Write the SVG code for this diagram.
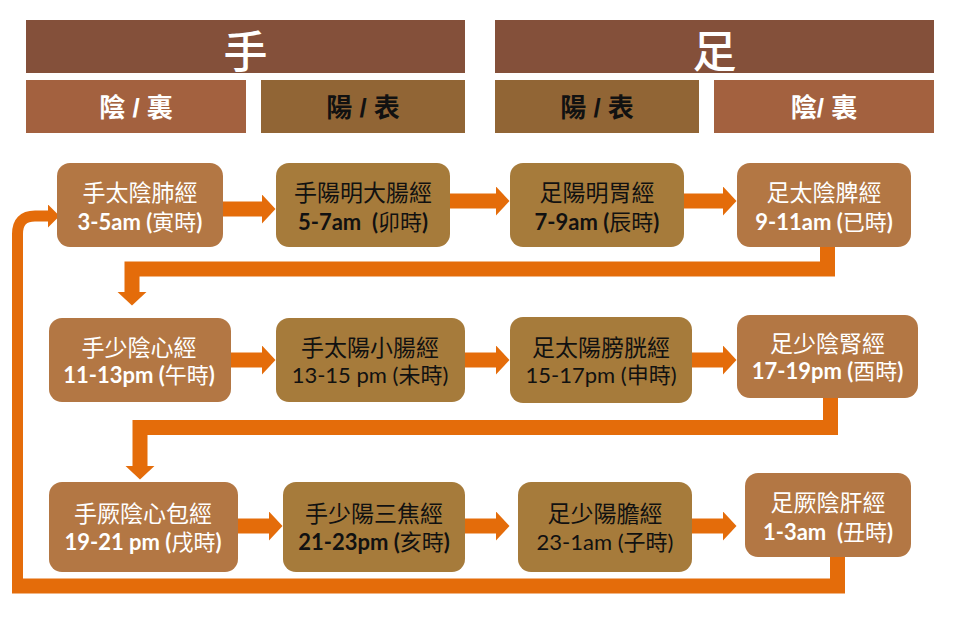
<svg xmlns="http://www.w3.org/2000/svg" width="960" height="617" viewBox="0 0 960 617">
<style>
.hd{fill:#84503A}
.yinh{fill:#A3613F}
.yangh{fill:#916535}
.yin{fill:#B37744}
.yang{fill:#A67B3B}
.big{font-family:"Noto Sans CJK TC","Noto Sans CJK SC",sans-serif;font-size:44px;font-weight:500;fill:#fff;text-anchor:middle}
.sub{font-family:"Liberation Sans","Noto Sans CJK TC",sans-serif;font-size:26px;font-weight:bold;text-anchor:middle}
.w{fill:#fff}
.k{fill:#111}
.l1{font-family:"Noto Sans CJK TC","Noto Sans CJK SC",sans-serif;font-size:23px;text-anchor:middle}
.l2{font-family:Lato,"Noto Sans CJK TC",sans-serif;font-size:22px;text-anchor:middle;white-space:pre}
.b{font-weight:bold}
.c{font-family:"Noto Sans CJK TC","Noto Sans CJK SC",sans-serif;font-weight:normal}
.ln{fill:none;stroke:#E46C0A;stroke-width:15;stroke-linejoin:miter}
.lnt{fill:none;stroke:#E46C0A;stroke-width:11}
</style>
<defs>
<marker id="ah" viewBox="0 0 14 30" markerWidth="14" markerHeight="30" markerUnits="userSpaceOnUse" refX="0.5" refY="15" orient="auto">
<path d="M0,0 L14,15 L0,30 Z" fill="#E46C0A"/>
</marker>
<marker id="ahs" viewBox="0 0 12 24" markerWidth="12" markerHeight="24" markerUnits="userSpaceOnUse" refX="0.5" refY="12" orient="auto">
<path d="M0,0 L12,12 L0,24 Z" fill="#E46C0A"/>
</marker>
</defs>
<rect width="960" height="617" fill="#fff"/>

<g id="header-hand">
<rect class="hd" x="26" y="20" width="439" height="53"/>
<text class="big" x="245.5" y="68">手</text>
</g>
<g id="header-foot">
<rect class="hd" x="495" y="20" width="439" height="53"/>
<text class="big" x="714.5" y="68">足</text>
</g>
<g id="header-hand-yin">
<rect class="yinh" x="26" y="80" width="220" height="53"/>
<text class="sub w" x="136" y="117">陰 / 裏</text>
</g>
<g id="header-hand-yang">
<rect class="yangh" x="261" y="80" width="204" height="53"/>
<text class="sub k" x="363" y="117">陽 / 表</text>
</g>
<g id="header-foot-yang">
<rect class="yangh" x="495" y="80" width="204" height="53"/>
<text class="sub k" x="597" y="117">陽 / 表</text>
</g>
<g id="header-foot-yin">
<rect class="yinh" x="714" y="80" width="220" height="53"/>
<text class="sub w" x="824" y="117">陰/ 裏</text>
</g>

<g id="connectors">
<path class="ln" d="M223,209 H262" marker-end="url(#ah)"/>
<path class="ln" d="M450,201 H496" marker-end="url(#ah)"/>
<path class="ln" d="M684,201 H723" marker-end="url(#ah)"/>
<path class="ln" d="M827.5,247 V269 H132 V292" marker-end="url(#ah)"/>
<path class="ln" d="M231,360 H262" marker-end="url(#ah)"/>
<path class="ln" d="M465,360 H496" marker-end="url(#ah)"/>
<path class="ln" d="M692,360 H723" marker-end="url(#ah)"/>
<path class="ln" d="M830.5,398 V427.5 H140 V466" marker-end="url(#ah)"/>
<path class="ln" d="M238,526 H269" marker-end="url(#ah)"/>
<path class="ln" d="M465,526 H496" marker-end="url(#ah)"/>
<path class="ln" d="M692,526 H723" marker-end="url(#ah)"/>
<path class="ln" d="M837.5,557 V586 H12"/>
<path class="lnt" d="M17.5,593 V234 Q17.5,216 35,216 H48" marker-end="url(#ahs)"/>
</g>

<g id="n1">
<rect class="yin" x="57" y="163" width="166" height="84" rx="13"/>
<text class="l1 w" x="140" y="201">手太陰肺經</text>
<text class="l2 w b" x="140" y="229.5">3-5am (<tspan class="c">寅時</tspan>)</text>
</g>
<g id="n2">
<rect class="yang" x="276" y="163" width="174" height="84" rx="13"/>
<text class="l1 k" x="363" y="201">手陽明大腸經</text>
<text class="l2 k b" x="363" y="229.5">5-7am  (<tspan class="c">卯時</tspan>)</text>
</g>
<g id="n3">
<rect class="yang" x="510" y="163" width="174" height="84" rx="13"/>
<text class="l1 k" x="597" y="201">足陽明胃經</text>
<text class="l2 k b" x="597" y="229.5">7-9am (<tspan class="c">辰時</tspan>)</text>
</g>
<g id="n4">
<rect class="yin" x="737" y="163" width="174" height="84" rx="13"/>
<text class="l1 w" x="824" y="201">足太陰脾經</text>
<text class="l2 w b" x="824" y="229.5">9-11am (<tspan class="c">已時</tspan>)</text>
</g>

<g id="n5">
<rect class="yin" x="49" y="318" width="182" height="84" rx="13"/>
<text class="l1 w" x="139" y="355.5">手少陰心經</text>
<text class="l2 w b" x="139" y="382.5">11-13pm (<tspan class="c">午時</tspan>)</text>
</g>
<g id="n6">
<rect class="yang" x="276" y="318" width="189" height="84" rx="13"/>
<text class="l1 k" x="370" y="355.5">手太陽小腸經</text>
<text class="l2 k" x="370" y="382.5">13-15 pm (<tspan class="c">未時</tspan>)</text>
</g>
<g id="n7">
<rect class="yang" x="510" y="317" width="182" height="86" rx="13"/>
<text class="l1 k" x="601" y="355.5">足太陽膀胱經</text>
<text class="l2 k" x="601" y="382.5">15-17pm (<tspan class="c">申時</tspan>)</text>
</g>
<g id="n8">
<rect class="yin" x="737" y="315" width="181" height="83" rx="13"/>
<text class="l1 w" x="827.5" y="351.5">足少陰腎經</text>
<text class="l2 w b" x="827.5" y="378.5">17-19pm (<tspan class="c">酉時</tspan>)</text>
</g>

<g id="n9">
<rect class="yin" x="49" y="482" width="189" height="90" rx="13"/>
<text class="l1 w" x="143" y="521.5">手厥陰心包經</text>
<text class="l2 w b" x="143" y="550">19-21 pm (<tspan class="c">戌時</tspan>)</text>
</g>
<g id="n10">
<rect class="yang" x="283" y="482" width="182" height="90" rx="13"/>
<text class="l1 k" x="374" y="521.5">手少陽三焦經</text>
<text class="l2 k b" x="374" y="550">21-23pm (<tspan class="c">亥時</tspan>)</text>
</g>
<g id="n11">
<rect class="yang" x="518" y="482" width="174" height="90" rx="13"/>
<text class="l1 k" x="605" y="521.5">足少陽膽經</text>
<text class="l2 k" x="605" y="550">23-1am (<tspan class="c">子時</tspan>)</text>
</g>
<g id="n12">
<rect class="yin" x="745" y="473" width="166" height="84" rx="13"/>
<text class="l1 w" x="828" y="510.5">足厥陰肝經</text>
<text class="l2 w b" x="828" y="539.5">1-3am  (<tspan class="c">丑時</tspan>)</text>
</g>
</svg>
